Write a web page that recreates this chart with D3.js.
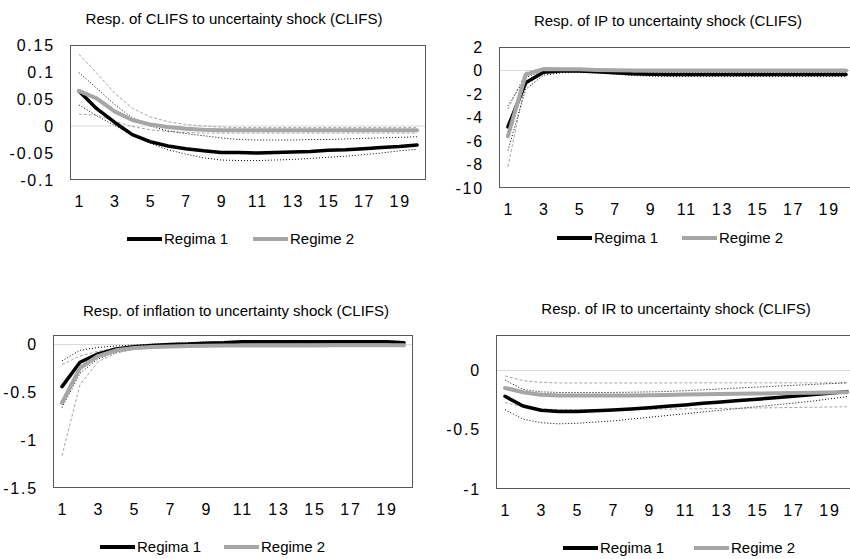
<!DOCTYPE html>
<html>
<head>
<meta charset="utf-8">
<script src="https://cdn.jsdelivr.net/npm/d3@7"></script>
<style>
  body { margin: 0; background: #fff; }
  svg { display: block; }
  text { font-family: "Liberation Sans", Arial, sans-serif; fill: #000; }
</style>
</head>
<body>
<svg id="chart" width="850" height="559"></svg>
<script>
// Horizon (periods after the shock) and labelled ticks
const periods = [1, 2, 3, 4, 5, 6, 7, 8, 9, 10, 11, 12, 13, 14, 15, 16, 17, 18, 19, 20];
const xTickValues = [1, 3, 5, 7, 9, 11, 13, 15, 17, 19];
const legendNames = ["Regima 1", "Regime 2"];

// Response of CLIFS
const clifsR1   = [0.065, 0.032, 0.007, -0.016, -0.029, -0.037, -0.042, -0.046, -0.049, -0.049, -0.050, -0.049, -0.048, -0.047, -0.045, -0.044, -0.042, -0.040, -0.038, -0.035];
const clifsR1Up = [0.099, 0.070, 0.040, 0.015, 0.000, -0.009, -0.014, -0.018, -0.022, -0.025, -0.026, -0.026, -0.026, -0.025, -0.025, -0.024, -0.023, -0.022, -0.021, -0.020];
const clifsR1Lo = [0.039, 0.019, 0.001, -0.017, -0.032, -0.044, -0.052, -0.059, -0.063, -0.064, -0.064, -0.063, -0.062, -0.060, -0.058, -0.056, -0.053, -0.050, -0.046, -0.043];
const clifsR2   = [0.065, 0.051, 0.027, 0.011, 0.003, -0.002, -0.005, -0.007, -0.008, -0.008, -0.008, -0.008, -0.008, -0.008, -0.008, -0.008, -0.008, -0.008, -0.008, -0.008];
const clifsR2Up = [0.133, 0.098, 0.061, 0.033, 0.017, 0.008, 0.003, 0.000, -0.002, -0.003, -0.003, -0.003, -0.003, -0.003, -0.003, -0.003, -0.003, -0.003, -0.003, -0.003];
const clifsR2Lo = [0.022, 0.020, 0.009, -0.001, -0.007, -0.010, -0.012, -0.013, -0.013, -0.013, -0.013, -0.013, -0.013, -0.013, -0.013, -0.013, -0.013, -0.013, -0.013, -0.013];

// Response of IP
const ipR1   = [-4.8, -1.05, -0.15, -0.05, -0.05, -0.1, -0.2, -0.28, -0.32, -0.33, -0.33, -0.33, -0.33, -0.33, -0.33, -0.33, -0.33, -0.33, -0.33, -0.33];
const ipR1Up = [-3.0, -0.6, 0.0, 0.05, 0.05, 0.0, -0.08, -0.12, -0.15, -0.15, -0.15, -0.15, -0.15, -0.15, -0.15, -0.15, -0.15, -0.15, -0.15, -0.15];
const ipR1Lo = [-6.8, -1.6, -0.4, -0.2, -0.15, -0.2, -0.3, -0.42, -0.48, -0.5, -0.5, -0.5, -0.5, -0.5, -0.5, -0.5, -0.5, -0.5, -0.5, -0.5];
const ipR2   = [-5.6, -0.35, 0.12, 0.1, 0.1, 0.05, 0.02, 0.0, 0.0, 0.0, 0.0, 0.0, 0.0, 0.0, 0.0, 0.0, 0.0, 0.0, 0.0, 0.0];
const ipR2Up = [-3.3, -0.15, 0.2, 0.15, 0.12, 0.1, 0.09, 0.08, 0.08, 0.08, 0.08, 0.08, 0.08, 0.08, 0.08, 0.08, 0.08, 0.08, 0.08, 0.08];
const ipR2Lo = [-8.2, -0.9, -0.05, 0.0, 0.0, -0.03, -0.06, -0.08, -0.08, -0.08, -0.08, -0.08, -0.08, -0.08, -0.08, -0.08, -0.08, -0.08, -0.08, -0.08];

// Response of inflation
const infR1   = [-0.44, -0.185, -0.098, -0.045, -0.024, -0.01, 0.0, 0.005, 0.015, 0.02, 0.03, 0.03, 0.03, 0.03, 0.03, 0.03, 0.03, 0.03, 0.03, 0.02];
const infR1Up = [-0.17, -0.06, -0.03, -0.015, -0.005, 0.005, 0.012, 0.02, 0.028, 0.033, 0.038, 0.04, 0.04, 0.04, 0.04, 0.04, 0.04, 0.04, 0.04, 0.03];
const infR1Lo = [-0.66, -0.30, -0.15, -0.08, -0.045, -0.03, -0.015, -0.008, 0.0, 0.008, 0.015, 0.018, 0.02, 0.02, 0.02, 0.02, 0.02, 0.02, 0.02, 0.01];
const infR2   = [-0.61, -0.245, -0.12, -0.06, -0.035, -0.025, -0.02, -0.015, -0.012, -0.01, -0.01, -0.01, -0.009, -0.009, -0.009, -0.008, -0.008, -0.008, -0.008, -0.008];
const infR2Up = [-0.21, -0.12, -0.07, -0.04, -0.02, -0.01, -0.005, 0.0, 0.0, 0.0, 0.001, 0.001, 0.002, 0.002, 0.002, 0.003, 0.003, 0.003, 0.003, 0.003];
const infR2Lo = [-1.16, -0.42, -0.18, -0.09, -0.05, -0.035, -0.03, -0.025, -0.022, -0.02, -0.02, -0.02, -0.02, -0.02, -0.02, -0.02, -0.02, -0.02, -0.02, -0.02];

// Response of the interest rate
const irR1   = [-0.217, -0.30, -0.335, -0.345, -0.345, -0.34, -0.333, -0.325, -0.315, -0.302, -0.29, -0.277, -0.265, -0.253, -0.242, -0.23, -0.218, -0.205, -0.192, -0.178];
const irR1Up = [-0.08, -0.16, -0.18, -0.185, -0.185, -0.185, -0.185, -0.183, -0.18, -0.177, -0.17, -0.163, -0.155, -0.147, -0.14, -0.132, -0.125, -0.118, -0.111, -0.104];
const irR1Lo = [-0.33, -0.41, -0.44, -0.45, -0.445, -0.435, -0.425, -0.41, -0.395, -0.38, -0.365, -0.35, -0.335, -0.32, -0.305, -0.29, -0.275, -0.26, -0.24, -0.22];
const irR2   = [-0.147, -0.183, -0.205, -0.21, -0.21, -0.21, -0.21, -0.21, -0.208, -0.206, -0.203, -0.2, -0.198, -0.196, -0.194, -0.192, -0.19, -0.188, -0.186, -0.184];
const irR2Up = [-0.045, -0.085, -0.1, -0.105, -0.105, -0.105, -0.105, -0.105, -0.105, -0.105, -0.104, -0.104, -0.104, -0.104, -0.104, -0.104, -0.104, -0.104, -0.104, -0.104];
const irR2Lo = [-0.27, -0.305, -0.325, -0.33, -0.33, -0.33, -0.33, -0.33, -0.328, -0.326, -0.324, -0.322, -0.32, -0.318, -0.316, -0.314, -0.312, -0.31, -0.308, -0.306];

// Panel titles and value axes
const titles = [
  "Resp. of CLIFS to uncertainty shock (CLIFS)",
  "Resp. of IP to uncertainty shock (CLIFS)",
  "Resp. of inflation to uncertainty shock (CLIFS)",
  "Resp. of IR to uncertainty shock (CLIFS)"
];
const yTicksClifs = [0.15, 0.1, 0.05, 0, -0.05, -0.1];
const yTicksIp    = [2, 0, -2, -4, -6, -8, -10];
const yTicksInf   = [0, -0.5, -1, -1.5];
const yTicksIr    = [0, -0.5, -1];

const COLOR_R1 = "#000000";
const COLOR_R2 = "#a6a6a6";
const FONT = 15;
const TICK_FONT = 16;
const TICK_SPACING = 1.8;

// Layout of each panel
const panels = [
  { title: titles[0], series: [clifsR1, clifsR2, clifsR1Up, clifsR1Lo, clifsR2Up, clifsR2Lo],
    domain: [-0.1, 0.15], ticks: yTicksClifs,
    box: { x0: 70, x1: 426, y0: 45, y1: 180 }, titleX: 234, titleY: 24,
    legY: 239, legX: [127, 253] },
  { title: titles[1], series: [ipR1, ipR2, ipR1Up, ipR1Lo, ipR2Up, ipR2Lo],
    domain: [-10, 2], ticks: yTicksIp,
    box: { x0: 499, x1: 855, y0: 47, y1: 188 }, titleX: 668, titleY: 26,
    legY: 238, legX: [557, 682] },
  { title: titles[2], series: [infR1, infR2, infR1Up, infR1Lo, infR2Up, infR2Lo],
    domain: [-1.5, 0.1], ticks: yTicksInf,
    box: { x0: 53, x1: 413, y0: 335, y1: 488 }, titleX: 236, titleY: 316,
    legY: 547, legX: [100, 224] },
  { title: titles[3], series: [irR1, irR2, irR1Up, irR1Lo, irR2Up, irR2Lo],
    domain: [-1, 0.3], ticks: yTicksIr,
    box: { x0: 496, x1: 856, y0: 335, y1: 489 }, titleX: 676, titleY: 314,
    legY: 548, legX: [563, 694] }
];

const svg = d3.select("#chart");

panels.forEach(p => {
  const g = svg.append("g");
  const x = d3.scaleBand().domain(periods).range([p.box.x0, p.box.x1]).padding(0);
  const cx = t => x(t) + x.bandwidth() / 2;
  const y = d3.scaleLinear().domain(p.domain).range([p.box.y1, p.box.y0]);

  // title
  g.append("text")
    .attr("x", p.titleX).attr("y", p.titleY)
    .attr("text-anchor", "middle")
    .style("font-size", FONT + "px")
    .text(p.title);

  // zero line
  g.append("line")
    .attr("x1", p.box.x0).attr("x2", p.box.x1)
    .attr("y1", y(0)).attr("y2", y(0))
    .attr("stroke", "#d9d9d9").attr("stroke-width", 1);

  // value axis
  const yAxis = g.append("g")
    .attr("transform", `translate(${p.box.x0},0)`)
    .call(d3.axisLeft(y).tickValues(p.ticks).tickSize(0).tickPadding(15).tickFormat(d => String(d)));
  yAxis.select(".domain").remove();
  yAxis.selectAll("text")
    .style("font-size", TICK_FONT + "px")
    .style("letter-spacing", TICK_SPACING + "px")
    .style("font-family", '"Liberation Sans", Arial, sans-serif')
    .attr("fill", "#000");

  // category axis
  const xAxis = g.append("g")
    .attr("transform", `translate(0,${p.box.y1})`)
    .call(d3.axisBottom(x).tickValues(xTickValues).tickSize(0).tickPadding(16));
  xAxis.select(".domain").remove();
  xAxis.selectAll("text")
    .style("font-size", TICK_FONT + "px")
    .style("letter-spacing", TICK_SPACING + "px")
    .style("font-family", '"Liberation Sans", Arial, sans-serif')
    .attr("dx", TICK_SPACING / 2)
    .attr("fill", "#000");

  const line = d3.line().x((d, i) => cx(periods[i])).y(d => y(d));

  const [r1, r2, r1Up, r1Lo, r2Up, r2Lo] = p.series;

  // confidence bands
  [r2Up, r2Lo].forEach(s => g.append("path").datum(s)
    .attr("d", line).attr("fill", "none")
    .attr("stroke", COLOR_R2).attr("stroke-width", 1).attr("stroke-dasharray", "3,2"));
  [r1Up, r1Lo].forEach(s => g.append("path").datum(s)
    .attr("d", line).attr("fill", "none")
    .attr("stroke", COLOR_R1).attr("stroke-width", 1).attr("stroke-dasharray", "1,2"));

  // point responses
  g.append("path").datum(r1).attr("d", line).attr("fill", "none")
    .attr("stroke", COLOR_R1).attr("stroke-width", 3.5).attr("stroke-linejoin", "round").attr("stroke-linecap", "round");
  g.append("path").datum(r2).attr("d", line).attr("fill", "none")
    .attr("stroke", COLOR_R2).attr("stroke-width", 4).attr("stroke-linejoin", "round").attr("stroke-linecap", "round");

  // plot area border
  g.append("rect")
    .attr("x", p.box.x0 + 0.5).attr("y", p.box.y0 + 0.5)
    .attr("width", p.box.x1 - p.box.x0 - 1).attr("height", p.box.y1 - p.box.y0 - 1)
    .attr("fill", "none").attr("stroke", "#595959").attr("stroke-width", 1);

  // legend
  const colors = [COLOR_R1, COLOR_R2];
  legendNames.forEach((name, i) => {
    const lx = p.legX[i];
    g.append("line")
      .attr("x1", lx).attr("x2", lx + 35)
      .attr("y1", p.legY).attr("y2", p.legY)
      .attr("stroke", colors[i]).attr("stroke-width", 4);
    g.append("text")
      .attr("x", lx + 37).attr("y", p.legY)
      .attr("dy", "0.35em")
      .style("font-size", FONT + "px")
      .text(name);
  });
});
</script>
</body>
</html>
